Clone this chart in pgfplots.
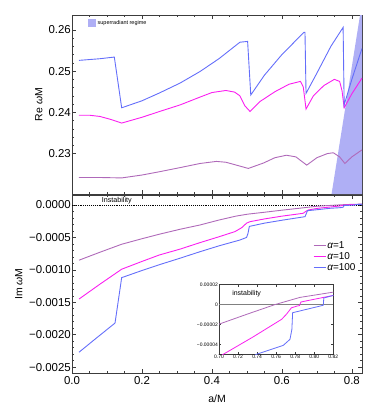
\documentclass[border=0pt]{standalone}
\usepackage{fontspec}
\setmainfont{Liberation Sans}
\usepackage{pgfplots}
\usepackage{pgfplotstable}
\pgfplotsset{compat=1.18}

\definecolor{alphaOne}{RGB}{175,105,185}
\definecolor{alphaTen}{RGB}{250,30,240}
\definecolor{alphaHundred}{RGB}{100,110,250}
\definecolor{shadeSR}{RGB}{175,175,245}
\definecolor{frameGray}{RGB}{60,60,60}

% real part, alpha = 1, 10, 100
\pgfplotstableread{
a w
0.02 0.2242
0.08 0.2242
0.142 0.2241
0.20 0.2248
0.25 0.2256
0.309 0.2266
0.366 0.2276
0.413 0.2281
0.44 0.2279
0.47 0.2272
0.504 0.2264
0.547 0.2277
0.58 0.2290
0.613 0.2296
0.64 0.2292
0.671 0.2272
0.70 0.2290
0.73 0.2300
0.747 0.2302
0.765 0.2292
0.78 0.2276
0.80 0.2292
0.829 0.2309
}\reA
\pgfplotstableread{
a w
0.02 0.2393
0.05 0.2393
0.08 0.2390
0.11 0.2383
0.142 0.2374
0.20 0.2388
0.25 0.2402
0.309 0.2418
0.366 0.2437
0.40 0.2448
0.44 0.2453
0.465 0.2449
0.48 0.2440
0.494 0.2416
0.509 0.2402
0.537 0.2426
0.58 0.2450
0.62 0.2468
0.653 0.2475
0.661 0.2462
0.669 0.2408
0.69 0.2440
0.72 0.2465
0.75 0.2480
0.765 0.2475
0.772 0.2452
0.778 0.2411
0.80 0.2445
0.829 0.2483
}\reB
\pgfplotstableread{
a w
0.02 0.2526
0.05 0.2528
0.08 0.2530
0.10 0.2532
0.121 0.2534
0.142 0.2411
0.20 0.2428
0.25 0.2447
0.309 0.2471
0.366 0.2499
0.42 0.2530
0.48 0.2570
0.502 0.2572
0.511 0.2442
0.55 0.2490
0.60 0.2540
0.663 0.2594
0.666 0.2594
0.669 0.2446
0.70 0.2495
0.74 0.2560
0.775 0.2606
0.778 0.2418
0.80 0.2480
0.829 0.2555
}\reC

% imaginary part, alpha = 1, 10, 100
\pgfplotstableread{
a w
0.02 -0.000851
0.08 -0.000728
0.142 -0.000605
0.20 -0.000520
0.25 -0.000450
0.309 -0.000374
0.366 -0.000308
0.42 -0.000232
0.47 -0.000170
0.504 -0.000140
0.55 -0.000112
0.60 -0.000080
0.65 -0.000050
0.70 -0.0000197
0.73 -0.0000095
0.7588 0
0.785 0.0000072
0.82 0.0000125
0.829 0.0000135
}\imA
\pgfplotstableread{
a w
0.02 -0.00145
0.08 -0.00122
0.142 -0.00099
0.20 -0.00087
0.25 -0.00077
0.309 -0.00068
0.366 -0.00058
0.42 -0.00049
0.466 -0.00041
0.485 -0.00035
0.499 -0.00028
0.509 -0.000257
0.55 -0.000215
0.60 -0.000172
0.661 -0.000128
0.668 -0.000100
0.675 -0.000077
0.7045 -0.000050
0.735 -0.000033
0.7658 -0.0000148
0.771 -0.0000095
0.776 -0.0000033
0.7815 -0.0000016
0.7845 -0.0000010
0.786 0.0000026
0.82 0.0000092
0.829 0.0000110
}\imB
\pgfplotstableread{
a w
0.02 -0.00227
0.07 -0.00205
0.123 -0.00182
0.142 -0.00112
0.20 -0.00101
0.25 -0.00092
0.309 -0.00082
0.366 -0.00072
0.42 -0.00063
0.48 -0.00054
0.499 -0.00050
0.503 -0.00044
0.507 -0.00033
0.55 -0.00028
0.60 -0.000235
0.666 -0.000180
0.670 -0.000130
0.673 -0.000088
0.70 -0.000073
0.7395 -0.000050
0.7675 -0.000041
0.7745 -0.000035
0.7765 -0.000025
0.7773 -0.0000082
0.8095 -0.0000007
0.8100 0.0000066
0.82 0.0000092
0.829 0.0000105
}\imC

\pgfplotsset{
  mma/.style={
    scale only axis, width=290bp,
    xmin=0, xmax=0.829,
    tick align=inside, scaled ticks=false,
    axis line style={frameGray, line width=0.7pt},
    every tick/.style={frameGray, line width=0.6pt},
    major tick length=4bp, minor tick length=2bp,
    xtick={0,0.2,0.4,0.6,0.8}, minor x tick num=3,
    tick label style={font=\fontsize{11.5}{13}\selectfont},
    yticklabel style={inner xsep=1pt},
    ylabel style={font=\fontsize{10.5}{12}\selectfont},
    xlabel style={font=\fontsize{10.5}{12}\selectfont},
    every axis plot/.append style={line width=0.9pt},
  },
}

\begin{document}
\begin{tikzpicture}
% top: real part
\begin{axis}[mma,
  at={(72bp,-15bp)}, anchor=north west, height=179bp,
  ymin=0.2202, ymax=0.2636,
  ytick={0.23,0.24,0.25,0.26}, yticklabels={0.23,0.24,0.25,0.26},
  minor y tick num=4, xticklabels={},
  ylabel={Re {\itshape ω}M},
  ylabel style={at={(axis description cs:-0.114,0.5)}, anchor=center},
  legend style={at={(rel axis cs:0.045,0.993)}, anchor=north west,
    draw=none, fill=none, font=\fontsize{5.5}{6}\selectfont},
  legend image code/.code={\fill[#1] (0pt,-3.8pt) rectangle (7.5pt,3.8pt);},
]
\addplot[fill=shadeSR, draw=none] coordinates {
  (0.742,0.2202) (0.8234,0.2636) (0.829,0.2636) (0.829,0.2202)} -- cycle;
\addlegendentry{superradiant regime}
\addplot[alphaOne, forget plot] table[x=a, y=w] {\reA};
\addplot[alphaTen, forget plot] table[x=a, y=w] {\reB};
\addplot[alphaHundred, forget plot] table[x=a, y=w] {\reC};
\end{axis}

% bottom: imaginary part
\begin{axis}[mma,
  at={(72bp,-195bp)}, anchor=north west, height=178bp,
  ymin=-0.00259, ymax=0.000154,
  ytick={-0.0025,-0.002,-0.0015,-0.001,-0.0005,0},
  yticklabels={−0.0025,−0.0020,−0.0015,−0.0010,−0.0005,0.0000},
  minor y tick num=4,
  xticklabels={0.0,0.2,0.4,0.6,0.8},
  xlabel={a/M},
  xlabel style={at={(axis description cs:0.5,-0.146)}, anchor=center},
  ylabel={Im {\itshape ω}M},
  ylabel style={at={(axis description cs:-0.183,0.5)}, anchor=center},
  legend style={at={(rel axis cs:0.82,0.757)}, anchor=north west,
    draw=none, fill=none, font=\fontsize{10}{11}\selectfont,
    row sep=0pt, nodes={inner sep=1.2pt}},
  legend cell align=left,
  legend image code/.code={\draw[#1] (0pt,0pt) -- (12pt,0pt);},
]
\addlegendimage{draw=alphaOne, line width=1.2pt}
\addlegendentry{{\itshape α}=1}
\addlegendimage{draw=alphaTen, line width=1.2pt}
\addlegendentry{{\itshape α}=10}
\addlegendimage{draw=alphaHundred, line width=1.2pt}
\addlegendentry{{\itshape α}=100}
\addplot[black, densely dotted, line width=0.8pt, forget plot]
  coordinates {(0,0) (0.829,0)};
\node[font=\fontsize{7.2}{8}\selectfont, anchor=south, inner sep=0.5pt]
  at (axis cs:0.128,0.00001) {Instability};
\addplot[alphaOne, forget plot] table[x=a, y=w] {\imA};
\addplot[alphaTen, forget plot] table[x=a, y=w] {\imB};
\addplot[alphaHundred, forget plot] table[x=a, y=w] {\imC};
\end{axis}

% inset
\begin{axis}[
  at={(219bp,-284.7bp)}, anchor=north west,
  scale only axis, width=114.3bp, height=69.6bp,
  xmin=0.70, xmax=0.82, ymin=-0.00005, ymax=0.00002,
  axis background/.style={fill=white},
  tick align=inside, scaled ticks=false,
  axis line style={frameGray, line width=0.6pt},
  every tick/.style={frameGray, line width=0.4pt},
  major tick length=2bp,
  xtick={0.70,0.72,0.74,0.76,0.78,0.80,0.82},
  xticklabels={0.70,0.72,0.74,0.76,0.78,0.80,0.82},
  ytick={-0.00004,-0.00002,0,0.00002},
  yticklabels={−0.00004,−0.00002,0,0.00002},
  tick label style={font=\fontsize{5}{6}\selectfont, inner sep=1pt},
  every axis plot/.append style={line width=0.8pt},
]
\addplot[gray, line width=0.5pt] coordinates {(0.70,0) (0.82,0)};
\node[font=\fontsize{7}{8}\selectfont] at (axis cs:0.729,0.0000107) {instability};
\addplot[alphaOne] table[x=a, y=w] {\imA};
\addplot[alphaTen] table[x=a, y=w] {\imB};
\addplot[alphaHundred] table[x=a, y=w] {\imC};
\end{axis}

\pgfresetboundingbox
\useasboundingbox (0,0) rectangle (376bp,-407bp);
\end{tikzpicture}
\end{document}
